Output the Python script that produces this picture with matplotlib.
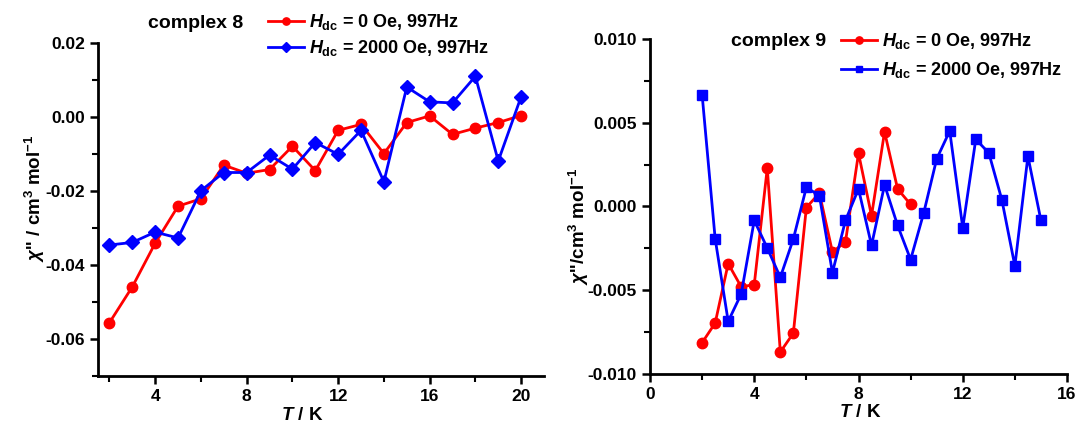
import numpy as np
import matplotlib
matplotlib.use('Agg')
import matplotlib.pyplot as plt
from matplotlib.ticker import MultipleLocator

plt.rcParams['font.family'] = ['Liberation Sans', 'DejaVu Sans']
plt.rcParams['font.weight'] = 'bold'
plt.rcParams['mathtext.fontset'] = 'custom'
plt.rcParams['mathtext.rm'] = 'Liberation Sans:bold'
plt.rcParams['mathtext.it'] = 'Liberation Sans:bold:italic'
plt.rcParams['mathtext.bf'] = 'Liberation Sans:bold'

# complex 8
t8 = [2, 3, 4, 5, 6, 7, 8, 9, 10, 11, 12, 13, 14, 15, 16, 17, 18, 19, 20]
c8_0oe = [-0.0556, -0.0459, -0.0341, -0.0241, -0.0221, -0.0130, -0.0152, -0.0142, -0.0079, -0.0145,
          -0.0036, -0.0020, -0.0099, -0.0015, 0.0003, -0.0047, -0.0030, -0.0015, 0.0004]
c8_2000oe = [-0.0346, -0.0339, -0.0311, -0.0327, -0.0199, -0.0150, -0.0150, -0.0103, -0.0141, -0.0069,
             -0.0101, -0.0036, -0.0175, 0.0081, 0.0041, 0.0038, 0.0110, -0.0119, 0.0055]

# complex 9
t9_0oe = [2, 2.5, 3, 3.5, 4, 4.5, 5, 5.5, 6, 6.5, 7, 7.5, 8, 8.5, 9, 9.5, 10]
c9_0oe = [-0.00813, -0.00696, -0.00341, -0.00480, -0.00466, 0.00230, -0.00869, -0.00756, -0.00006,
          0.00080, -0.00272, -0.00212, 0.00318, -0.00055, 0.00446, 0.00105, 0.00012]
t9_2000oe = [2, 2.5, 3, 3.5, 4, 4.5, 5, 5.5, 6, 6.5, 7, 7.5, 8, 8.5, 9, 9.5, 10, 10.5, 11, 11.5,
             12, 12.5, 13, 13.5, 14, 14.5, 15]
c9_2000oe = [0.00667, -0.00192, -0.00686, -0.00522, -0.00083, -0.00248, -0.00423, -0.00194, 0.00115,
             0.00064, -0.00395, -0.00083, 0.00105, -0.00232, 0.00129, -0.00113, -0.00317, -0.00040,
             0.00284, 0.00451, -0.00127, 0.00401, 0.00320, 0.00040, -0.00355, 0.00300, -0.00083]

lab0 = r'$H_{\rm dc}$ = 0 Oe, 997Hz'
lab2000 = r'$H_{\rm dc}$ = 2000 Oe, 997Hz'

fig = plt.figure(figsize=(10.8, 4.3), dpi=100)
ax1 = fig.add_axes([98/1080, 54/430, 446/1080, 333/430])
ax2 = fig.add_axes([650/1080, 56/430, 417/1080, 335/430])

def style(ax):
  for s in ['top', 'right']:
    ax.spines[s].set_visible(False)
  for s in ['left', 'bottom']:
    ax.spines[s].set_linewidth(2)
  ax.tick_params(which='major', direction='out', length=6, width=1.8, labelsize=12.5)
  ax.tick_params(which='minor', direction='out', length=4, width=1.5)
  for lb in ax.get_xticklabels() + ax.get_yticklabels():
    lb.set_fontweight('bold')

ax1.plot(t8, c8_0oe, '-o', color='#ff0000', lw=2, ms=7.5, label=lab0)
ax1.plot(t8, c8_2000oe, '-D', color='#0000ff', lw=2, ms=7, label=lab2000)
ax1.set_xlim(1.5, 21)
ax1.set_ylim(-0.07, 0.02)
ax1.xaxis.set_major_locator(MultipleLocator(4))
ax1.xaxis.set_minor_locator(MultipleLocator(2))
ax1.yaxis.set_major_locator(MultipleLocator(0.02))
ax1.yaxis.set_minor_locator(MultipleLocator(0.01))
ax1.set_xticks([4, 8, 12, 16, 20])
ax1.yaxis.set_major_formatter(matplotlib.ticker.FormatStrFormatter('%.2f'))
style(ax1)
ax1.set_xlabel(r'$T$ / K', fontsize=13.5, fontweight='bold')
ax1.set_ylabel(r"$\chi$'' / cm$^3$ mol$^{-1}$", fontsize=13.5, fontweight='bold')
ax1.xaxis.set_label_coords(0.459, -0.094)
ax1.yaxis.set_label_coords(-0.114, 0.535)
ax1.legend(loc='upper left', bbox_to_anchor=(268/1080, 1 - 12/430), bbox_transform=fig.transFigure,
           frameon=False, fontsize=13, handlelength=2.0, handletextpad=0.25, labelspacing=0.35,
           borderpad=0, borderaxespad=0, markerscale=0.7)
fig.text(148/1080, 1 - 23/430, 'complex 8', fontsize=14, fontweight='bold', ha='left', va='center')

ax2.plot(t9_0oe, c9_0oe, '-o', color='#ff0000', lw=2, ms=7.5, label=lab0)
ax2.plot(t9_2000oe, c9_2000oe, '-s', color='#0000ff', lw=2, ms=6.5, label=lab2000)
ax2.set_xlim(0, 16)
ax2.set_ylim(-0.010, 0.010)
ax2.xaxis.set_major_locator(MultipleLocator(4))
ax2.xaxis.set_minor_locator(MultipleLocator(2))
ax2.yaxis.set_major_locator(MultipleLocator(0.005))
ax2.yaxis.set_minor_locator(MultipleLocator(0.0025))
ax2.yaxis.set_major_formatter(matplotlib.ticker.FormatStrFormatter('%.3f'))
style(ax2)
ax2.set_xlabel(r'$T$ / K', fontsize=13.5, fontweight='bold')
ax2.set_ylabel(r"$\chi$''/cm$^3$ mol$^{-1}$", fontsize=13.5, fontweight='bold')
ax2.xaxis.set_label_coords(0.504, -0.09)
ax2.yaxis.set_label_coords(-0.142, 0.439)
ax2.legend(loc='upper left', bbox_to_anchor=(841/1080, 1 - 31/430), bbox_transform=fig.transFigure,
           frameon=False, fontsize=13, handlelength=2.0, handletextpad=0.25, labelspacing=0.5,
           borderpad=0, borderaxespad=0, markerscale=0.7)
fig.text(731/1080, 1 - 41/430, 'complex 9', fontsize=14, fontweight='bold', ha='left', va='center')

fig.savefig('out.png', dpi=100)
